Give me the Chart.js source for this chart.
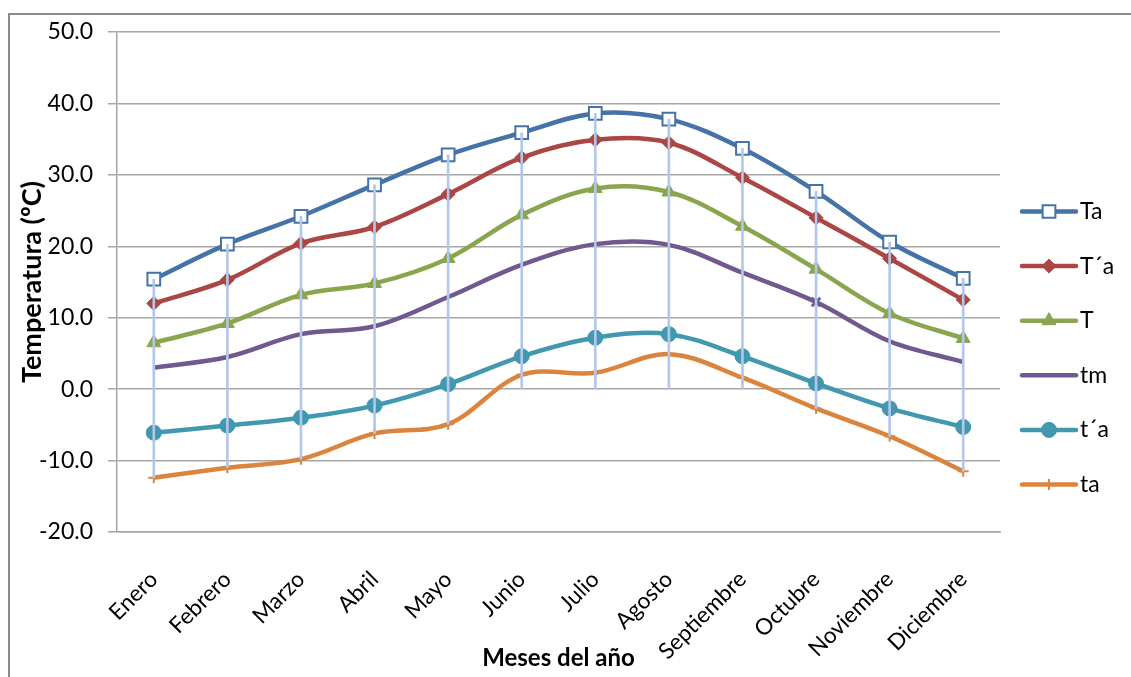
<!DOCTYPE html>
<html>
<head>
<meta charset="utf-8">
<script src="https://cdn.jsdelivr.net/npm/chart.js@4.4.1/dist/chart.umd.min.js"></script>
<style>
  html, body { margin: 0; padding: 0; background: #ffffff; }
  canvas { display: block; }
</style>
</head>
<body>
<canvas id="grafico" width="1131" height="677"></canvas>
<script>
// Temperaturas mensuales (ºC)
const meses = ['Enero', 'Febrero', 'Marzo', 'Abril', 'Mayo', 'Junio', 'Julio',
               'Agosto', 'Septiembre', 'Octubre', 'Noviembre', 'Diciembre'];
const serieTa  = [15.4, 20.3, 24.2, 28.6, 32.8, 35.9, 38.6, 37.8, 33.7, 27.7, 20.6, 15.5];
const serieTpa = [12.0, 15.3, 20.4, 22.7, 27.3, 32.4, 34.9, 34.5, 29.6, 24.0, 18.3, 12.5];
const serieT   = [6.5, 9.2, 13.2, 14.8, 18.3, 24.4, 28.1, 27.6, 22.8, 16.8, 10.6, 7.1];
const serieTm  = [3.0, 4.5, 7.7, 8.8, 12.9, 17.4, 20.3, 20.2, 16.3, 12.2, 6.7, 3.8];
const serieTpm = [-6.1, -5.1, -4.0, -2.3, 0.7, 4.6, 7.2, 7.7, 4.6, 0.8, -2.7, -5.3];
const serieTam = [-12.4, -11.0, -9.8, -6.2, -4.9, 2.0, 2.3, 4.9, 1.6, -2.7, -6.6, -11.5];
const ejeY = { min: -20, max: 50, paso: 10 };

const FUENTE = 'Lato, "Open Sans", sans-serif';
const GRIS = '#a6a6a6';

// líneas verticales: del valor máximo al mínimo (o a 0) de cada mes
const todas = [serieTa, serieTpa, serieT, serieTm, serieTpm, serieTam];
const rangos = meses.map((_, i) => {
  const v = todas.map(s => s[i]);
  return [Math.min(0, ...v), Math.max(...v)];
});

function serie(label, data, color, extra) {
  return Object.assign({
    type: 'line',
    label: label,
    data: data,
    borderColor: color,
    backgroundColor: color,
    pointBackgroundColor: color,
    pointBorderColor: color,
    borderWidth: 4.5,
    tension: 0.35,
    fill: false,
    order: 2
  }, extra);
}

const datasets = [
  serie('Ta', serieTa, '#4572a7', { pointStyle: 'rect', pointRadius: 9, pointBorderWidth: 2, pointBackgroundColor: '#ffffff' }),
  serie('T\u00B4a', serieTpa, '#aa4643', { pointStyle: 'rectRot', pointRadius: 7, pointBorderWidth: 1 }),
  serie('T', serieT, '#89a54e', { pointStyle: 'triangle', pointRadius: 8, pointBorderWidth: 1 }),
  serie('tm', serieTm, '#71588f', {
    pointStyle: 'crossRot',
    pointRadius: serieTm.map((_, i) => i === 9 ? 6 : 0),
    pointBorderWidth: 3,
    legendPointRadius: 0
  }),
  serie('t\u00B4a', serieTpm, '#4198af', { pointStyle: 'circle', pointRadius: 7.5, pointBorderWidth: 1 }),
  serie('ta', serieTam, '#db843d', { pointStyle: 'cross', pointRadius: 5.5, pointBorderWidth: 2 }),
  {
    type: 'bar',
    label: 'rango',
    data: rangos,
    backgroundColor: '#b3c7ea',
    borderWidth: 0,
    barThickness: 2,
    grouped: false,
    order: 1
  }
];

// marco gris exterior
const marco = {
  id: 'marco',
  beforeDraw(chart) {
    const ctx = chart.ctx;
    ctx.save();
    ctx.fillStyle = '#ffffff';
    ctx.fillRect(0, 0, chart.width, chart.height);
    ctx.strokeStyle = '#8c8c8c';
    ctx.lineWidth = 2;
    ctx.strokeRect(9, 14, chart.width + 20, chart.height + 20);
    ctx.restore();
  }
};

// leyenda a la derecha: línea con el marcador de cada serie
const leyenda = {
  id: 'leyenda',
  afterDraw(chart) {
    const ctx = chart.ctx;
    const area = chart.chartArea;
    const x0 = area.right + 22, x1 = area.right + 76, xt = area.right + 80;
    const y0 = 211.5, dy = 54.6;
    ctx.save();
    let k = 0;
    chart.data.datasets.forEach(ds => {
      if (ds.type !== 'line') return;
      const y = y0 + k * dy;
      ctx.strokeStyle = ds.borderColor;
      ctx.lineWidth = ds.borderWidth;
      ctx.lineCap = 'round';
      ctx.beginPath();
      ctx.moveTo(x0, y);
      ctx.lineTo(x1, y);
      ctx.stroke();
      const r = ds.legendPointRadius !== undefined ? ds.legendPointRadius :
        (Array.isArray(ds.pointRadius) ? 0 : ds.pointRadius);
      if (r > 0) {
        ctx.fillStyle = ds.pointBackgroundColor;
        ctx.strokeStyle = ds.pointBorderColor;
        ctx.lineWidth = ds.pointBorderWidth;
        ctx.lineCap = 'butt';
        Chart.helpers.drawPoint(ctx, {
          pointStyle: ds.pointStyle, radius: r, rotation: 0, borderWidth: ds.pointBorderWidth
        }, (x0 + x1) / 2, y);
      }
      ctx.fillStyle = '#000000';
      ctx.font = '23px ' + FUENTE;
      ctx.textAlign = 'left';
      ctx.textBaseline = 'middle';
      ctx.fillText(ds.label, xt, y);
      k++;
    });
    ctx.restore();
  }
};

new Chart(document.getElementById('grafico'), {
  type: 'line',
  data: { labels: meses, datasets: datasets },
  plugins: [marco, leyenda],
  options: {
    responsive: false,
    devicePixelRatio: 1,
    animation: false,
    layout: { padding: { left: 10, top: 32, right: 131, bottom: 4 } },
    plugins: {
      legend: { display: false },
      tooltip: { enabled: false }
    },
    scales: {
      x: {
        type: 'category',
        offset: true,
        grid: { display: false },
        border: { display: true, color: GRIS, width: 1.5 },
        ticks: {
          color: '#000000',
          font: { family: FUENTE, size: 22.5 },
          minRotation: 45,
          maxRotation: 45,
          padding: 26,
          autoSkip: false
        },
        title: {
          display: true,
          text: 'Meses del año',
          color: '#000000',
          font: { family: FUENTE, size: 24, weight: 'bold' },
          padding: { top: 0, bottom: 0 }
        },
        afterFit(scale) { scale.height = 141; }
      },
      y: {
        min: ejeY.min,
        max: ejeY.max,
        grid: { color: GRIS, lineWidth: 1.5, tickLength: 9 },
        border: { display: true, color: GRIS, width: 1.5 },
        ticks: {
          stepSize: ejeY.paso,
          color: '#000000',
          font: { family: FUENTE, size: 23 },
          padding: 15,
          callback: v => v.toFixed(1)
        },
        title: {
          display: true,
          text: 'Temperatura (ºC)',
          color: '#000000',
          font: { family: FUENTE, size: 27, weight: 'bold' },
          padding: { top: 6, bottom: 0 }
        },
        afterFit(scale) { scale.width = 107; }
      }
    }
  }
});
</script>
</body>
</html>
